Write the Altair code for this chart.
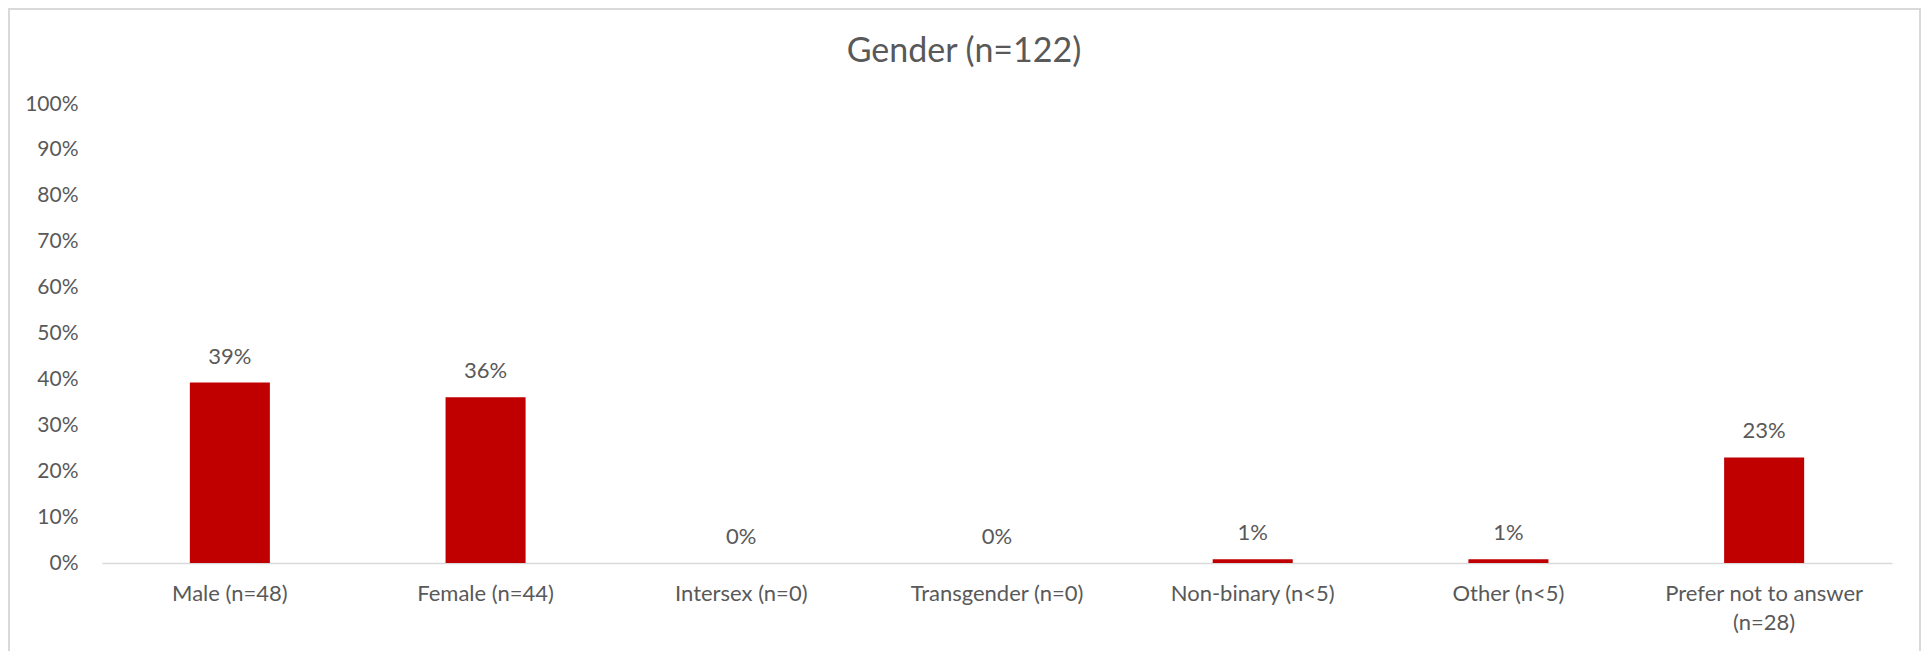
import altair as alt
import pandas as pd

categories = ["Male (n=48)", "Female (n=44)", "Intersex (n=0)", "Transgender (n=0)",
              "Non-binary (n<5)", "Other (n<5)", "Prefer not to answer (n=28)"]
shares = [0.393, 0.361, 0.0, 0.0, 0.008, 0.008, 0.230]
y_ticks = [0, 0.1, 0.2, 0.3, 0.4, 0.5, 0.6, 0.7, 0.8, 0.9, 1.0]
title_text = "Gender (n=122)"

df = pd.DataFrame({"category": categories, "share": shares})

FONT = "Lato"
TXT = "#595959"
W, H = 1790, 459

label_expr = ("length(datum.label) > 20 ? [slice(datum.label, 0, indexof(datum.label, ' (')), "
              "slice(datum.label, indexof(datum.label, ' (') + 1)] : datum.label")

x = alt.X("category:N", sort=categories, title=None,
          scale=alt.Scale(paddingInner=0.687, paddingOuter=0.3435),
          axis=alt.Axis(labelAngle=0, ticks=False, domainColor="#d9d9d9", domainWidth=1.5,
                        labelFont=FONT, labelFontSize=22, labelColor=TXT, labelPadding=20,
                        labelLineHeight=29, labelExpr=label_expr, labelLimit=1000, grid=False))
y = alt.Y("share:Q", title=None,
          scale=alt.Scale(domain=[0, 1], nice=False),
          axis=alt.Axis(values=y_ticks, format=".0%", grid=False, domain=False, ticks=False,
                        labelFont=FONT, labelFontSize=21, labelColor=TXT, labelPadding=24))

bars = alt.Chart(df).mark_bar(color="#C00000").encode(x=x, y=y)
labels = alt.Chart(df).mark_text(font=FONT, fontSize=22, color=TXT, baseline="alphabetic", dy=-19).encode(
    x=alt.X("category:N", sort=categories),
    y="share:Q",
    text=alt.Text("share:Q", format=".0%"))

frame = alt.Chart(alt.Data(values=[{"k": 1}])).mark_rect(
    fill=None, stroke="#d9d9d9", strokeWidth=2).encode(
    x=alt.value(-93), x2=alt.value(W + 28), y=alt.value(-95), y2=alt.value(H + 100))

chart = alt.layer(frame, bars, labels).properties(
    width=W, height=H,
    title=alt.TitleParams(title_text, font=FONT, fontSize=34, fontWeight="normal", color=TXT,
                          anchor="middle", dx=-33, baseline="alphabetic", offset=-88),
    padding={"left": 94, "top": 96, "right": 29, "bottom": 88},
    autosize=alt.AutoSizeParams(type="none"),
).configure(background="white", view=alt.ViewConfig(strokeWidth=0))

chart.save("out.html", embed_options={"renderer": "svg", "actions": False})
